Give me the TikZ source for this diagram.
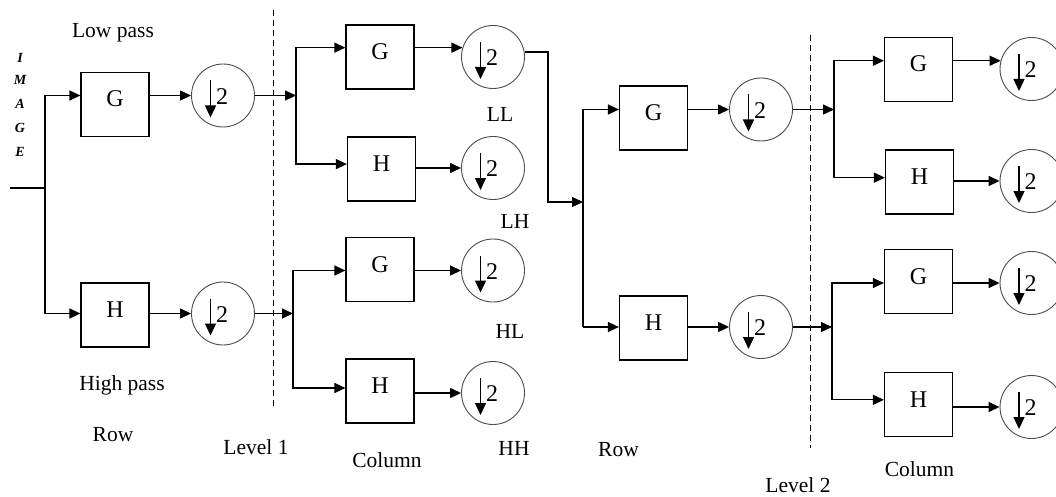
\documentclass[tikz,border=0pt]{standalone}
\usepackage{fontspec}
\setmainfont{Liberation Serif}
\usetikzlibrary{arrows.meta}
\newcommand\dsym[1]{%
  \draw[darr] ([shift={(-12.5,-15)}]#1.center) -- ++(0,37);
  \node[twolab] (#1t) at ([shift={(-1,1)}]#1.center) {2};}
\begin{document}
\begin{tikzpicture}[x=1pt,y=-1pt,
  box/.style={draw,line width=1.2pt,minimum width=68pt,minimum height=64pt,inner sep=0pt,
    font=\fontsize{24}{24}\selectfont,text height=17pt,text depth=12pt},
  ds/.style={draw=black!70,circle,line width=0.9pt,minimum size=63pt,inner sep=0pt},
  ln/.style={line width=1.3pt},
  arr/.style={ln,-{Triangle[length=11pt,width=10pt]}},
  darr/.style={line width=1.3pt,-{Triangle[length=12pt,width=11pt]}},
  twolab/.style={font=\fontsize{24}{24}\selectfont,inner sep=0pt},
  lbl/.style={font=\fontsize{21.5}{24}\selectfont,anchor=base,inner sep=0pt},
  img/.style={font=\fontsize{14}{14}\selectfont\bfseries\itshape,anchor=base,inner sep=0pt},
  lvl/.style={line width=1pt,dash pattern=on 6pt off 4pt}]
\useasboundingbox (0,0) rectangle (1056,497);
\clip (0,0) rectangle (1056,497);
% IMAGE letters
\node[img] (i1) at (20,63) {I};
\node[img] (i2) at (20,85) {M};
\node[img] (i3) at (20,109) {A};
\node[img] (i4) at (20,133) {G};
\node[img] (i5) at (20,157) {E};
% level 0
\node[box] (G0) at (115,104.5) {G};
\node[box] (H0) at (115,315) {H};
\node[ds] (c0a) at (223,95.5) {};
\node[ds] (c0b) at (223,313.5) {};
\dsym{c0a}\dsym{c0b}
\coordinate (in0) at (10,188);
\coordinate (s0) at (45,188);
\draw[ln] (in0) -- (s0);
\draw[arr] (s0) |- (G0.west |- c0a.west);
\draw[arr] (s0) |- (H0.west |- c0b.west);
\draw[arr] (G0.east |- c0a.west) -- (c0a.west);
\draw[arr] (H0.east |- c0b.west) -- (c0b.west);
% dashed level 1
\coordinate (d1a) at (273,10);
\coordinate (d1b) at (273,406);
\draw[lvl] (d1a) -- (d1b);
% level 1 columns
\node[box] (G1a) at (380,57) {G};
\node[box] (H1a) at (381.5,169) {H};
\node[box] (G1b) at (380,269.5) {G};
\node[box] (H1b) at (380,391) {H};
\node[ds] (c1a) at (493,57) {};
\node[ds] (c1b) at (493,168) {};
\node[ds] (c1c) at (493,270.5) {};
\node[ds] (c1d) at (493,393) {};
\dsym{c1a}\dsym{c1b}\dsym{c1c}\dsym{c1d}
\coordinate (s1a) at (296,95.5);
\coordinate (s1b) at (293,313.5);
\draw[arr] (c0a.east) -- (s1a);
\draw[arr] (c0b.east) -- (s1b);
\draw[arr] (s1a) |- (G1a.west |- c1a.163);
\draw[arr] (s1a) |- (H1a.west |- c1b.173);
\draw[arr] (s1b) |- (G1b.west |- c1c.west);
\draw[arr] (s1b) |- (H1b.west |- c1d.171);
\draw[arr] (G1a.east |- c1a.163) -- (c1a.163);
\draw[arr] (H1a.east |- c1b.west) -- (c1b.west);
\draw[arr] (G1b.east |- c1c.west) -- (c1c.west);
\draw[arr] (H1b.east |- c1d.west) -- (c1d.west);
% labels level 1
\node[lbl] (lLL) at (500,121.5) {LL};
\node[lbl] (lLH) at (515,228) {LH};
\node[lbl] (lHL) at (510,338) {HL};
\node[lbl] (lHH) at (514,455) {HH};
% level 2 rows
\node[box] (G2) at (653.5,118) {G};
\node[box] (H2) at (653.5,328) {H};
\node[ds] (c2a) at (761,109.5) {};
\node[ds] (c2b) at (761,327) {};
\dsym{c2a}\dsym{c2b}
\coordinate (k1) at (548,202);
\coordinate (s2) at (583,202);
\draw[arr] (c1a.9) -| (k1) -- (s2);
\draw[ln] (s2 |- c2a.west) -- (s2 |- c2b.west);
\draw[arr] (s2 |- c2a.west) -- (G2.west |- c2a.west);
\draw[arr] (s2 |- c2b.west) -- (H2.west |- c2b.west);
\draw[arr] (G2.east |- c2a.west) -- (c2a.west);
\draw[arr] (H2.east |- c2b.west) -- (c2b.west);
% dashed level 2
\coordinate (d2a) at (810,35);
\coordinate (d2b) at (810,448);
\draw[lvl] (d2a) -- (d2b);
% level 2 columns
\node[box] (G3a) at (918.5,69.5) {G};
\node[box] (H3a) at (919.5,182) {H};
\node[box] (G3b) at (918.5,281.5) {G};
\node[box] (H3b) at (918.5,404.5) {H};
\node[ds] (c3a) at (1031.5,69) {};
\node[ds] (c3b) at (1031.5,181) {};
\node[ds] (c3c) at (1031.5,283) {};
\node[ds] (c3d) at (1031.5,407) {};
\dsym{c3a}\dsym{c3b}\dsym{c3c}\dsym{c3d}
\coordinate (s3a) at (834,109.5);
\coordinate (s3b) at (832,327);
\draw[arr] (c2a.east) -- (s3a);
\draw[arr] (c2b.east) -- (s3b);
\draw[arr] (s3a) |- (G3a.west |- c3a.165);
\draw[arr] (s3a) |- (H3a.west |- c3b.174);
\draw[arr] (s3b) |- (G3b.west |- c3c.west);
\draw[arr] (s3b) |- (H3b.west |- c3d.167);
\draw[arr] (G3a.east |- c3a.165) -- (c3a.165);
\draw[arr] (H3a.east |- c3b.west) -- (c3b.west);
\draw[arr] (G3b.east |- c3c.west) -- (c3c.west);
\draw[arr] (H3b.east |- c3d.west) -- (c3d.west);
% text labels
\node[lbl] (lp) at (113,38) {Low pass};
\node[lbl] (hp) at (122,390) {High pass};
\node[lbl] (r1) at (113,441) {Row};
\node[lbl] (v1) at (256,454) {Level 1};
\node[lbl] (col1) at (387,467) {Column};
\node[lbl] (r2) at (618.5,456.5) {Row};
\node[lbl] (v2) at (798,492) {Level 2};
\node[lbl] (col2) at (919.5,476.5) {Column};
\end{tikzpicture}
\end{document}
